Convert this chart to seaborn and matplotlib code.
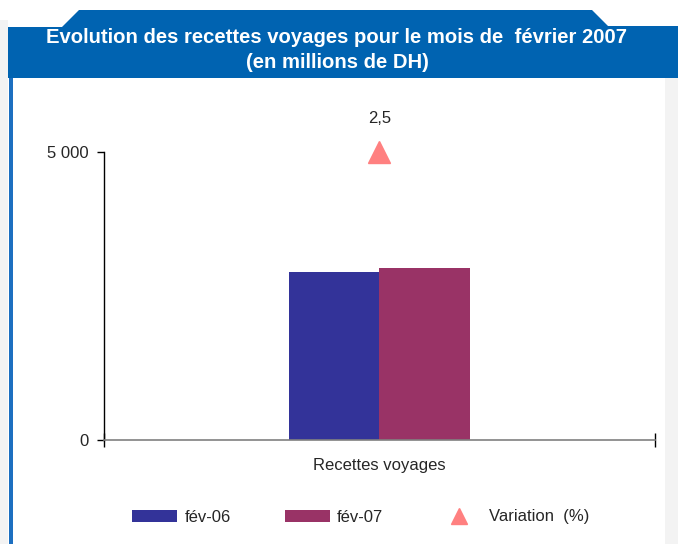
import matplotlib
matplotlib.use("Agg")
import matplotlib.pyplot as plt
import seaborn as sns
import pandas as pd
from matplotlib.patches import Polygon, Rectangle, Patch
from matplotlib.lines import Line2D

# ---- data ----
categories = ["Recettes voyages"]
periods = ["fév-06", "fév-07"]
values = [2915, 2988]
variation = [2.5]
variation_label = "2,5"
y_ticks = [0, 5000]
y_tick_labels = ["0", "5 000"]
title = "Evolution des recettes voyages pour le mois de  février 2007\n(en millions de DH)"

df = pd.DataFrame({"categorie": categories * len(periods), "periode": periods, "valeur": values})

sns.set_style("white")
plt.rcParams["font.family"] = ["Liberation Sans", "DejaVu Sans"]

W, H = 678, 544
fig = plt.figure(figsize=(W / 100, H / 100), dpi=100)

def fx(x):
    return x / W

def fy(y):
    return 1 - y / H

FS = 12

# side strips
fig.patches.append(Rectangle((fx(665), 0), fx(13), fy(78), transform=fig.transFigure,
                             facecolor="#F3F3F3", edgecolor="none", zorder=0))
fig.patches.append(Rectangle((0, 0), fx(8), fy(20), transform=fig.transFigure,
                             facecolor="#F3F3F3", edgecolor="none", zorder=0))
# left blue line
fig.patches.append(Rectangle((fx(9), 0), fx(4), fy(78), transform=fig.transFigure,
                             facecolor="#1C6FC0", edgecolor="none", zorder=1))
# header banner
pts = [(8, 78), (8, 27), (62, 27), (79, 10), (592, 10), (608, 26), (678, 26), (678, 78)]
fig.patches.append(Polygon([(fx(x), fy(y)) for x, y in pts], closed=True, transform=fig.transFigure,
                           facecolor="#0063B1", edgecolor="none", zorder=1))
fig.text(fx(337), fy(50), title, ha="center", va="center", color="white",
         fontsize=14.6, fontweight="bold", linespacing=1.38)

# main axes
ax = fig.add_axes([fx(104), fy(440), fx(655 - 104), fy(152) - fy(440)])
sns.barplot(data=df, x="categorie", y="valeur", hue="periode", palette=["#333399", "#993366"],
            width=0.33, gap=0, saturation=1, ax=ax, legend=False, linewidth=0, edgecolor="none")
ax.set_xlim(-0.5, 0.5)
ax.set_ylim(0, 5000)
ax.set_yticks(y_ticks)
ax.set_yticklabels(y_tick_labels, fontsize=FS)
ax.set_xlabel("")
ax.set_ylabel("")
ax.set_xticks([-0.5, 0.5])
ax.set_xticklabels(["", ""])
ax.tick_params(axis="x", direction="inout", length=10, width=1, color="black", bottom=True)
ax.tick_params(axis="y", direction="out", length=5, width=1, color="black", left=True, pad=6)
ax.text(0, -0.09, categories[0], transform=ax.get_xaxis_transform(), ha="center", va="center", fontsize=FS)
for s in ["top", "right"]:
    ax.spines[s].set_visible(False)
ax.spines["left"].set_color("black")
ax.spines["left"].set_linewidth(1)
ax.spines["bottom"].set_color("#808080")
ax.spines["bottom"].set_linewidth(1.2)
ax.set_facecolor("none")

# variation on secondary axis
ax2 = ax.twinx()
ax2.set_ylim(0, 2.5)
ax2.plot([0], variation, marker="^", markersize=16, color="#FF8080", linestyle="none", clip_on=False)
ax2.annotate(variation_label, (0, variation[0]), xytext=(0, 24), textcoords="offset points",
             ha="center", va="center", fontsize=FS)
ax2.axis("off")

handles = [Patch(facecolor="#333399", edgecolor="none"),
           Patch(facecolor="#993366", edgecolor="none"),
           Line2D([], [], marker="^", color="#FF8080", linestyle="none", markersize=11)]
fig.legend(handles, periods + ["Variation  (%)"], loc="center", bbox_to_anchor=(fx(361), fy(517)),
           ncol=3, frameon=False, fontsize=FS, handlelength=2.7, handleheight=0.75,
           columnspacing=3.2, handletextpad=0.45)

fig.savefig("out.png", dpi=100)
